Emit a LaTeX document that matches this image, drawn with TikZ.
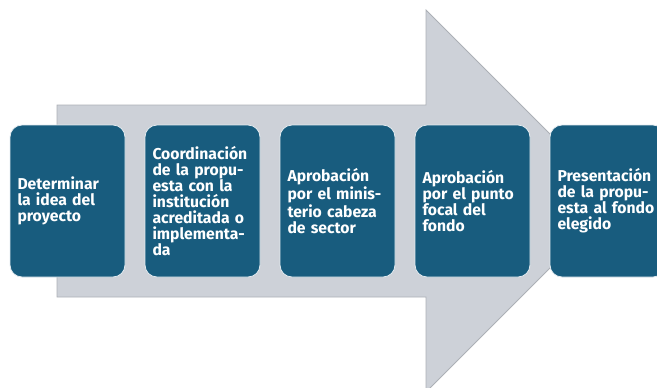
\documentclass[tikz,border=0pt]{standalone}
\usepackage{fontspec}
\setmainfont{Fira Sans}
\definecolor{flecha}{RGB}{205,209,216}
\definecolor{bordeflecha}{RGB}{172,176,182}
\definecolor{caja}{RGB}{24,92,126}
\tikzset{
  paso/.style={fill=caja, draw=white!88!caja, line width=0.6pt, rounded corners=9pt,
    minimum width=86.25pt, minimum height=114pt, text width=75pt, inner xsep=5.6pt,
    align=left, text=white, font=\bfseries\fontsize{11.8}{12}\selectfont}
}
\begin{document}
\begin{tikzpicture}[x=0.75pt,y=-0.75pt]
        \useasboundingbox (0,0) rectangle (657,387);
        \clip (0,0) rectangle (657,387);
        % flecha de fondo
        \filldraw[fill=flecha, draw=bordeflecha, line width=0.6pt]
            (57,105) -- (426,105) -- (426,10) -- (617,201) -- (426,392)
            -- (426,297) -- (57,297) -- cycle;
        % pasos
        \foreach \i/\texto in {1/{Determinar\\la idea del\\proyecto},
            2/{Coordinación\\de la propu-\\esta con la\\institución\\acreditada o\\implementa-\\da},
            3/{Aprobación\\por el minis-\\terio cabeza\\de sector},
            4/{Aprobación\\por el punto\\focal del\\fondo},
            5/{Presentación\\de la propu-\\esta al fondo\\elegido}}
        \node[paso] (b\i) at (-67.5+135*\i,201) {\texto};
    \end{tikzpicture}
\end{document}
